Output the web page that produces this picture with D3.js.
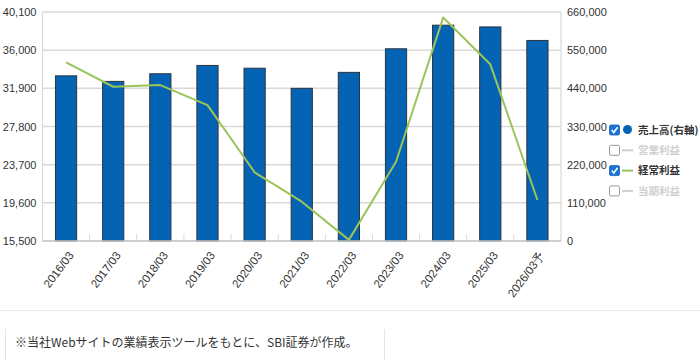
<!DOCTYPE html>
<html><head><meta charset="utf-8">
<script src="https://cdn.jsdelivr.net/npm/d3@7"></script>
<style>
html,body{margin:0;padding:0;background:#fff;}
svg{display:block;}
</style></head>
<body>
<svg id="c" width="700" height="360"></svg>
<script>
const categories = ["2016/03","2017/03","2018/03","2019/03","2020/03","2021/03","2022/03","2023/03","2024/03","2025/03","2026/03予"];
const sales = [476000, 460000, 482000, 506000, 498000, 440000, 486000, 554000, 622000, 617000, 578000];
const ordinaryProfit = [34700, 32070, 32250, 30100, 22880, 19720, 15620, 24020, 39500, 34480, 19900];
const leftTicks = [15500, 19600, 23700, 27800, 31900, 36000, 40100];
const rightTicks = [0, 110000, 220000, 330000, 440000, 550000, 660000];
const legendItems = [
  {label:"売上高(右軸)", checked:true, type:"circle"},
  {label:"営業利益", checked:false, type:"line"},
  {label:"経常利益", checked:true, type:"line"},
  {label:"当期利益", checked:false, type:"line"}
];
const note = "※当社Webサイトの業績表示ツールをもとに、SBI証券が作成。";

const svg = d3.select("#c");
const L = 42.5, R = 561, T = 12, B = 241;
const numFont = "'Liberation Sans', Arial, sans-serif";
const jpFont = "'Noto Sans CJK JP', sans-serif";

const x = d3.scaleBand().domain(categories).range([L, R]).paddingInner(0.55).paddingOuter(0.275);
const yL = d3.scaleLinear().domain([15500, 40100]).range([B, T]);
const yR = d3.scaleLinear().domain([0, 660000]).range([B, T]);

// gridlines
svg.append("g").selectAll("line").data(leftTicks).join("line")
  .attr("x1", L).attr("x2", R)
  .attr("y1", d => yL(d)).attr("y2", d => yL(d))
  .attr("stroke", "#d9d9d9").attr("stroke-width", 1.5);

// vertical axis lines
svg.append("line").attr("x1", L).attr("x2", L).attr("y1", T).attr("y2", B).attr("stroke", "#d9d9d9").attr("stroke-width", 1.2);
svg.append("line").attr("x1", R).attr("x2", R).attr("y1", T).attr("y2", B).attr("stroke", "#d9d9d9").attr("stroke-width", 1.2);

// category boundary ticks
const bounds = categories.slice(1).map(c => x(c) - x.step() * x.paddingInner() / 2);
svg.append("g").selectAll("line").data(bounds).join("line")
  .attr("x1", d => d).attr("x2", d => d).attr("y1", B - 7).attr("y2", B)
  .attr("stroke", "#d9d9d9").attr("stroke-width", 1);

// left axis labels
const gl = svg.append("g").attr("transform", `translate(${L},0)`)
  .call(d3.axisLeft(yL).tickValues(leftTicks).tickFormat(d3.format(",")).tickSize(0).tickPadding(6));
gl.select(".domain").remove();
gl.selectAll("text").attr("font-family", numFont).attr("font-size", 11).attr("fill", "#333");

// right axis labels
const gr = svg.append("g").attr("transform", `translate(${R},0)`)
  .call(d3.axisRight(yR).tickValues(rightTicks).tickFormat(d3.format(",")).tickSize(0).tickPadding(6));
gr.select(".domain").remove();
gr.selectAll("text").attr("font-family", numFont).attr("font-size", 11).attr("fill", "#333");

// bars
svg.append("g").selectAll("rect").data(sales).join("rect")
  .attr("x", (d, i) => x(categories[i]))
  .attr("width", x.bandwidth())
  .attr("y", d => yR(d))
  .attr("height", d => B - yR(d))
  .attr("fill", "#0563b4").attr("stroke", "#2b3440").attr("stroke-width", 1);

// bottom axis line
svg.append("line").attr("x1", L).attr("x2", R).attr("y1", B).attr("y2", B).attr("stroke", "#c8c8c8").attr("stroke-width", 1.5);

// line
const line = d3.line().x((d, i) => x(categories[i]) + x.bandwidth() / 2).y(d => yL(d));
svg.append("path").datum(ordinaryProfit).attr("d", line)
  .attr("fill", "none").attr("stroke", "#9bc45a").attr("stroke-width", 2).attr("stroke-linejoin", "round");

// x labels
const gx = svg.append("g").attr("transform", `translate(0,${B})`)
  .call(d3.axisBottom(x).tickSize(0).tickPadding(0));
gx.select(".domain").remove();
gx.selectAll("text")
  .attr("font-family", numFont).attr("font-size", 11.5).attr("fill", "#333")
  .attr("text-anchor", "end")
  .attr("transform", "translate(5,12) rotate(-53)")
  .attr("dy", "0.35em").attr("y", 0).attr("x", 0);

// legend
const lg = svg.append("g");
legendItems.forEach((it, i) => {
  const cy = 130 + i * 20.3;
  const g = lg.append("g");
  if (it.checked) {
    g.append("rect").attr("x", 609.5).attr("y", cy - 5).attr("width", 10).attr("height", 10).attr("rx", 1.5)
      .attr("fill", "#1a73d9").attr("stroke", "#1a5fb0").attr("stroke-width", 0.8);
    g.append("path").attr("d", `M611.8,${cy} L613.8,${cy + 2.6} L617.5,${cy - 2.8}`)
      .attr("fill", "none").attr("stroke", "#fff").attr("stroke-width", 1.6);
  } else {
    g.append("rect").attr("x", 609.5).attr("y", cy - 5).attr("width", 10).attr("height", 10).attr("rx", 1.5)
      .attr("fill", "#fff").attr("stroke", "#9a9a9a").attr("stroke-width", 1);
  }
  if (it.type === "circle") {
    g.append("circle").attr("cx", 627.5).attr("cy", cy - 0.5).attr("r", 4.5).attr("fill", "#0563b4");
  } else {
    g.append("line").attr("x1", 622).attr("x2", 633).attr("y1", cy).attr("y2", cy)
      .attr("stroke", it.checked ? "#9bc45a" : "#d0d0d0").attr("stroke-width", 2);
  }
  g.append("text").attr("x", 638).attr("y", cy).attr("dy", "0.35em")
    .attr("font-family", jpFont).attr("font-size", 10.5).attr("font-weight", "bold")
    .attr("fill", it.checked ? "#333" : "#d0d0d0").text(it.label);
});

// bottom separator and note box
svg.append("line").attr("x1", 0).attr("x2", 700).attr("y1", 310.5).attr("y2", 310.5).attr("stroke", "#ececec").attr("stroke-width", 1);
svg.append("line").attr("x1", 5.5).attr("x2", 5.5).attr("y1", 329).attr("y2", 360).attr("stroke", "#e4e4e4");
svg.append("line").attr("x1", 384.5).attr("x2", 384.5).attr("y1", 329).attr("y2", 360).attr("stroke", "#e4e4e4");
svg.append("text").attr("x", 15).attr("y", 343).attr("dy", "0.35em")
  .attr("font-family", jpFont).attr("font-size", 12).attr("fill", "#333").text(note);
</script>
</body></html>
